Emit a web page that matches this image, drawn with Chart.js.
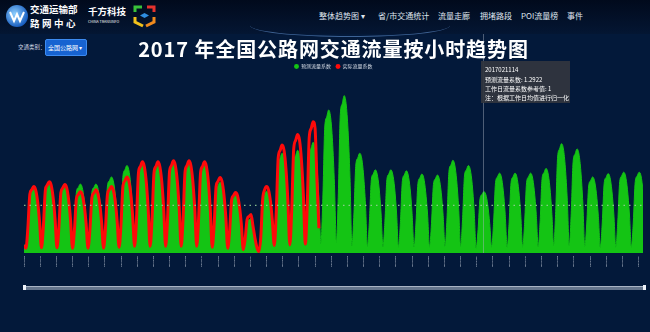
<!DOCTYPE html>
<html>
<head>
<meta charset="utf-8">
<title>2017年全国公路网交通流量按小时趋势图</title>
<script src="https://cdn.jsdelivr.net/npm/chart.js@4.4.1/dist/chart.umd.min.js"></script>
<style>
    body { margin: 0; width: 650px; height: 332px; overflow: hidden; background: #03193a; font-family: "Noto Sans CJK SC", "Noto Sans", sans-serif; position: relative; }
    .top { position: absolute; left: 0; top: 0; width: 650px; height: 34px; background: linear-gradient(180deg, #010a1c, #041633); }
    .arc { position: absolute; left: 250px; top: 14px; width: 200px; height: 22px; border-radius: 50%; border-bottom: 1px solid rgba(110, 160, 225, 0.55); }
    .t { position: absolute; color: #fff; white-space: nowrap; }
    .nav { position: absolute; top: 10px; font-size: 8px; color: #dfe4ee; white-space: nowrap; }
    #graphC { position: absolute; left: 0; top: 34px; }
    .title { position: absolute; left: 0; width: 667px; top: 34px; text-align: center; font-size: 20px; font-weight: bold; letter-spacing: 0.9px; color: #fff; z-index: 2; }
    .sel { position: absolute; left: 45px; top: 39px; width: 38px; height: 15px; background: #1763d1; border: 1px solid #3d8bf0; border-radius: 2px; color: #fff; font-size: 6px; line-height: 15px; padding-left: 2px; box-sizing: content-box; }
    .slider { position: absolute; left: 24px; top: 286px; width: 621px; height: 3px; background: #65758c; border-top: 1px solid #a9b4c4; }
    .slider i { position: absolute; top: -2px; width: 3px; height: 5px; background: #eef2f8; }
</style>
</head>
<body>

<div class="top">
    <div class="arc"></div>
    <svg style="position:absolute;left:5px;top:4px" width="24" height="24" viewBox="0 0 24 24">
        <defs><radialGradient id="lg" cx="40%" cy="40%" r="60%"><stop offset="0" stop-color="#8fd0ff"/><stop offset="1" stop-color="#1a5fc0"/></radialGradient></defs>
        <circle cx="12" cy="12" r="11" fill="url(#lg)"/>
        <path d="M5 8 L9 17 L12 10 L15 17 L19 8" stroke="#fff" stroke-width="2" fill="none"/>
    </svg>
    <div class="t" style="left:30px;top:2px;font-size:9.5px;font-weight:bold;">交通运输部</div>
    <div class="t" style="left:30px;top:16px;font-size:9.5px;font-weight:bold;letter-spacing:2.5px;">路网中心</div>
    <div class="t" style="left:88px;top:4px;font-size:9.5px;font-weight:bold;">千方科技</div>
    <div class="t" style="left:88px;top:19px;font-size:3.6px;">CHINA TRANSINFO</div>
    <svg style="position:absolute;left:133px;top:5px" width="23" height="23" viewBox="0 0 23 23">
        <path d="M2 7 L2 2 L9 2" stroke="#39c23a" stroke-width="3" fill="none"/>
        <path d="M14 2 L21 2 L21 7" stroke="#e5322d" stroke-width="3" fill="none"/>
        <path d="M2 12 L2 17 L10 21" stroke="#f2c21b" stroke-width="3" fill="none"/>
        <path d="M21 12 L21 17 L13 21" stroke="#f08a1d" stroke-width="3" fill="none"/>
        <path d="M11.5 8 L16 10.5 L11.5 13 L7 10.5 Z" fill="#2f8de0"/>
    </svg>
    <div class="nav" style="left:319px;">整体趋势图 &#9662;</div>
    <div class="nav" style="left:378px;">省/市交通统计</div>
    <div class="nav" style="left:438px;">流量走廊</div>
    <div class="nav" style="left:480px;">拥堵路段</div>
    <div class="nav" style="left:521px;">POI流量榜</div>
    <div class="nav" style="left:567px;">事件</div>
</div>

<div class="t" style="left:18px;top:43px;font-size:5.5px;color:#cfd6e2;">交通类别：</div>
<div class="sel">全国公路网 &#9662;</div>
<div class="title">2017 年全国公路网交通流量按小时趋势图</div>

<canvas id="graphC" width="650" height="241"></canvas>

<div class="slider"><i style="left:-1px"></i><i style="right:-1px"></i></div>

<script>
// first day of the series, 8 readings per day
var startDate = [2017, 0, 13];
var hoursOfDay = [0, 3, 6, 9, 12, 15, 18, 21];

var predicted = [
    0.18, 0.10, 0.52, 1.21, 1.31, 1.38, 1.31, 1.08,
    0.66, 0.11, 0.56, 1.29, 1.40, 1.47, 1.40, 1.15,
    0.71, 0.11, 0.55, 1.28, 1.38, 1.45, 1.38, 1.13,
    0.70, 0.11, 0.55, 1.28, 1.38, 1.45, 1.38, 1.13,
    0.70, 0.11, 0.55, 1.28, 1.38, 1.45, 1.38, 1.13,
    0.70, 0.12, 0.61, 1.41, 1.52, 1.60, 1.52, 1.25,
    0.77, 0.13, 0.70, 1.62, 1.75, 1.84, 1.75, 1.44,
    0.88, 0.13, 0.72, 1.66, 1.80, 1.89, 1.80, 1.47,
    0.91, 0.13, 0.70, 1.62, 1.75, 1.84, 1.75, 1.44,
    0.88, 0.13, 0.72, 1.66, 1.80, 1.89, 1.80, 1.47,
    0.91, 0.13, 0.72, 1.66, 1.80, 1.89, 1.80, 1.47,
    0.91, 0.13, 0.70, 1.62, 1.75, 1.84, 1.75, 1.44,
    0.88, 0.11, 0.57, 1.31, 1.42, 1.49, 1.42, 1.16,
    0.72, 0.09, 0.46, 1.07, 1.16, 1.22, 1.16, 0.95,
    0.59, 0.07, 0.28, 0.64, 0.70, 0.73, 0.52, 0.30,
    0.12, 0.04, 0.30, 1.05, 1.24, 1.30, 1.24, 1.01,
    0.62, 0.15, 0.80, 1.85, 2.00, 2.10, 2.00, 1.64,
    1.01, 0.15, 0.82, 1.90, 2.05, 2.16, 2.05, 1.68,
    1.04, 0.16, 0.89, 2.05, 2.21, 2.33, 2.21, 1.82,
    1.12, 0.20, 1.14, 2.65, 2.86, 3.01, 2.86, 2.35,
    1.44, 0.22, 1.26, 2.91, 3.14, 3.31, 3.14, 2.58,
    1.59, 0.15, 0.80, 1.85, 2.00, 2.10, 2.00, 1.64,
    1.01, 0.13, 0.67, 1.54, 1.66, 1.75, 1.66, 1.37,
    0.84, 0.13, 0.67, 1.54, 1.66, 1.75, 1.66, 1.37,
    0.84, 0.12, 0.66, 1.52, 1.64, 1.73, 1.64, 1.35,
    0.83, 0.12, 0.63, 1.46, 1.58, 1.66, 1.58, 1.29,
    0.80, 0.12, 0.62, 1.44, 1.56, 1.64, 1.56, 1.28,
    0.79, 0.14, 0.74, 1.72, 1.85, 1.95, 1.85, 1.52,
    0.94, 0.13, 0.70, 1.62, 1.75, 1.84, 1.75, 1.44,
    0.88, 0.10, 0.49, 1.14, 1.23, 1.29, 1.23, 1.01,
    0.62, 0.12, 0.64, 1.48, 1.60, 1.68, 1.60, 1.31,
    0.81, 0.12, 0.64, 1.48, 1.60, 1.68, 1.60, 1.31,
    0.81, 0.12, 0.64, 1.48, 1.60, 1.68, 1.60, 1.31,
    0.81, 0.13, 0.68, 1.57, 1.69, 1.78, 1.69, 1.39,
    0.85, 0.16, 0.87, 2.02, 2.19, 2.30, 2.19, 1.79,
    1.10, 0.15, 0.83, 1.93, 2.08, 2.19, 2.08, 1.71,
    1.05, 0.12, 0.61, 1.41, 1.52, 1.60, 1.52, 1.25,
    0.77, 0.12, 0.63, 1.47, 1.59, 1.67, 1.59, 1.30,
    0.80, 0.12, 0.65, 1.50, 1.62, 1.70, 1.62, 1.33,
    0.82, 0.12, 0.65, 1.50, 1.62, 1.70, 1.62, 1.33
];

var actual = [
    0.17, 0.10, 0.53, 1.23, 1.33, 1.40, 1.33, 1.09,
    0.67, 0.11, 0.57, 1.32, 1.43, 1.50, 1.43, 1.17,
    0.72, 0.11, 0.55, 1.27, 1.37, 1.44, 1.37, 1.12,
    0.69, 0.10, 0.49, 1.14, 1.23, 1.29, 1.23, 1.01,
    0.62, 0.10, 0.51, 1.17, 1.26, 1.33, 1.26, 1.04,
    0.64, 0.10, 0.53, 1.23, 1.33, 1.40, 1.33, 1.09,
    0.67, 0.12, 0.61, 1.41, 1.52, 1.60, 1.52, 1.25,
    0.77, 0.14, 0.73, 1.69, 1.82, 1.92, 1.82, 1.50,
    0.92, 0.14, 0.73, 1.69, 1.82, 1.92, 1.82, 1.50,
    0.92, 0.14, 0.74, 1.71, 1.84, 1.94, 1.84, 1.51,
    0.93, 0.14, 0.74, 1.71, 1.84, 1.94, 1.84, 1.51,
    0.93, 0.14, 0.73, 1.69, 1.82, 1.92, 1.82, 1.50,
    0.92, 0.12, 0.60, 1.40, 1.51, 1.59, 1.51, 1.24,
    0.76, 0.10, 0.48, 1.12, 1.21, 1.27, 1.21, 0.99,
    0.61, 0.07, 0.31, 0.71, 0.77, 0.81, 0.57, 0.32,
    0.12, 0.03, 0.32, 1.13, 1.33, 1.40, 1.33, 1.09,
    0.67, 0.16, 0.86, 2.00, 2.16, 2.27, 2.16, 1.77,
    1.09, 0.17, 0.95, 2.19, 2.37, 2.49, 2.37, 1.94,
    1.20, 0.19, 1.05, 2.43, 2.62, 2.76, 2.62, 1.50,
    0.52
];

var refValue = 1;          // 工作日流量系数参考值
var tipHour = 29 * 24 + 14; // hovered point
var tipTime = "2017021114";
var tipValue = "1.2922";
var lastHour = 39 * 24 + 21;

function toPoints(list) {
    var pts = [];
    for (var i = 0; i < list.length; i++) {
        pts.push({ x: Math.floor(i / 8) * 24 + hoursOfDay[i % 8], y: list[i] });
    }
    return pts;
}

function hourLabel(h) {
    var d = new Date(startDate[0], startDate[1], startDate[2], h);
    var p = function (n) { return (n < 10 ? "0" : "") + n; };
    return "" + d.getFullYear() + p(d.getMonth() + 1) + p(d.getDate()) + p(d.getHours());
}

var tipPlugin = {
    id: "tipBox",
    afterDatasetsDraw: function (chart) {
        var c = chart.ctx;
        var x = Math.round(chart.scales.x.getPixelForValue(tipHour)) + 0.5;
        c.save();
        c.strokeStyle = "rgba(170,180,195,0.45)";
        c.lineWidth = 1;
        c.beginPath();
        c.moveTo(x, 0);
        c.lineTo(x, chart.chartArea.bottom);
        c.stroke();

        var bx = x - 2.5, by = 27;
        c.fillStyle = "rgba(50,54,62,0.93)";
        c.fillRect(bx, by, 89, 42);
        c.fillStyle = "#ffffff";
        c.font = '6px "Noto Sans CJK SC"';
        c.textBaseline = "middle";
        var lines = [tipTime, "预测流量系数: " + tipValue, "工作日流量系数参考值: " + refValue, "注：根据工作日均值进行归一化"];
        for (var i = 0; i < lines.length; i++) {
            c.fillText(lines[i], bx + 4, by + 9 + i * 9.4);
        }
        c.restore();
    }
};

var ctx = document.getElementById("graphC").getContext("2d");
var myChart = new Chart(ctx, {
    type: "line",
    data: {
        datasets: [{
            label: "预测流量系数",
            data: toPoints(predicted),
            borderColor: "#14c414",
            backgroundColor: "#14c414",
            borderWidth: 1,
            fill: "origin",
            pointRadius: 0,
            cubicInterpolationMode: "monotone",
            order: 2
        }, {
            label: "实际流量系数",
            data: toPoints(actual),
            borderColor: "#ff0a0a",
            backgroundColor: "#ff0a0a",
            borderWidth: 3,
            fill: false,
            pointRadius: 0,
            cubicInterpolationMode: "monotone",
            order: 1
        }, {
            label: "ref",
            data: [{ x: 0, y: refValue }, { x: lastHour, y: refValue }],
            borderColor: "rgba(150,205,150,0.9)",
            borderWidth: 1.2,
            borderDash: [1.5, 4],
            pointRadius: 0,
            fill: false,
            order: 0
        }]
    },
    options: {
        responsive: false,
        devicePixelRatio: 1,
        animation: false,
        layout: { padding: { top: 25, left: 24, right: 7, bottom: 0 } },
        plugins: {
            legend: {
                labels: {
                    usePointStyle: true,
                    pointStyle: "circle",
                    boxWidth: 4,
                    boxHeight: 3.5,
                    padding: 5,
                    color: "#d6dce6",
                    font: { size: 5, family: "Noto Sans CJK SC" },
                    generateLabels: function (chart) {
                        var items = Chart.defaults.plugins.legend.labels.generateLabels(chart);
                        items.forEach(function (it) { it.lineWidth = 0; });
                        return items;
                    },
                    filter: function (item) { return item.text !== "ref"; },
                    sort: function (a, b) { return a.datasetIndex - b.datasetIndex; }
                }
            },
            tooltip: { enabled: false }
        },
        scales: {
            x: {
                type: "linear",
                min: 0,
                max: lastHour,
                grid: { display: false, drawTicks: false },
                border: { display: false },
                afterFit: function (scale) { scale.height = 22; },
                ticks: {
                    stepSize: 25,
                    includeBounds: false,
                    autoSkip: false,
                    maxRotation: 90,
                    minRotation: 90,
                    padding: 3,
                    color: "#d0d6e0",
                    font: { size: 2 },
                    callback: function (v) { return hourLabel(v); }
                }
            },
            y: {
                display: false,
                min: 0,
                max: 3.66
            }
        }
    },
    plugins: [tipPlugin]
});
</script>
</body>
</html>
